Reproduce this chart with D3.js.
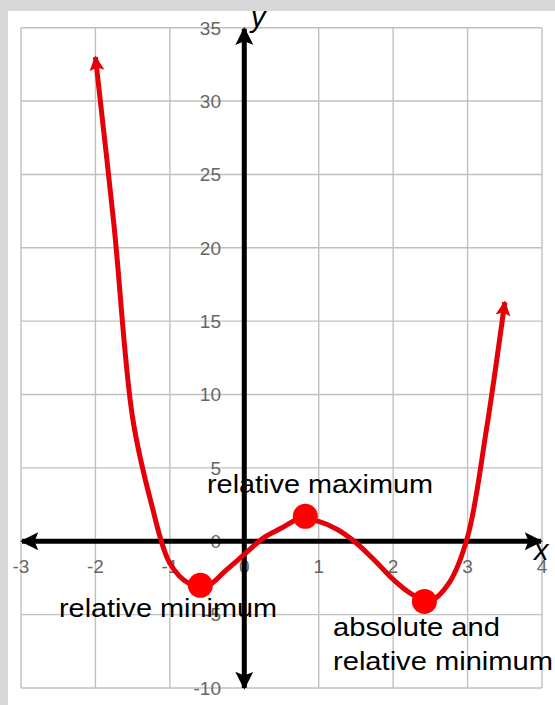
<!DOCTYPE html>
<html><head><meta charset="utf-8">
<script src="https://cdn.jsdelivr.net/npm/d3@7"></script>
<style>html,body{margin:0;padding:0;background:#d8d8d8;}svg{display:block;}</style>
</head><body>
<svg id="c" width="555" height="705"></svg>
<script>
// Curve sample points
const xValues = [-2, -1.75, -1.5, -1.25, -1, -0.75, -0.5, -0.25, 0, 0.25, 0.5, 0.75, 1, 1.25, 1.5, 1.75, 2, 2.25, 2.5, 2.75, 3, 3.25, 3.5];
const yValues = [33, 21.5, 8.4, 2.6, -1.5, -2.85, -3.05, -2.0, -0.9, 0.2, 0.9, 1.55, 1.35, 0.8, -0.1, -1.3, -2.6, -3.6, -4.05, -2.85, 0.3, 7.5, 16.3];
// Marked extrema
const pointX = [-0.59, 0.82, 2.42];
const pointY = [-3.0, 1.7, -4.1];
// Tick labels
const xTicks = [-3, -2, -1, 0, 1, 2, 3, 4];
const yTicks = [-10, -5, 0, 5, 10, 15, 20, 25, 30, 35];

const svg = d3.select("#c");
svg.append("rect").attr("x", 8).attr("y", 11).attr("width", 547).attr("height", 694).attr("fill", "#fff");

const x = d3.scaleLinear().domain([-3, 4]).range([21, 542]);
const y = d3.scaleLinear().domain([-10, 35]).range([688, 27.7]);

// grid
const grid = svg.append("g").attr("stroke", "#c0c0c0").attr("stroke-width", 1.4);
xTicks.forEach(t => grid.append("line").attr("x1", x(t)).attr("x2", x(t)).attr("y1", y(35)).attr("y2", y(-10)));
yTicks.forEach(t => grid.append("line").attr("y1", y(t)).attr("y2", y(t)).attr("x1", x(-3)).attr("x2", x(4)));

// tick labels
const lab = svg.append("g").attr("font-family", "Liberation Sans, Arial, sans-serif").attr("font-size", 19).attr("fill", "#666");
yTicks.forEach(t => lab.append("text").attr("x", 221).attr("y", y(t)).attr("dy", "0.36em").attr("text-anchor", "end").text(t));
xTicks.forEach(t => lab.append("text").attr("x", x(t)).attr("y", y(0) + 32).attr("text-anchor", "middle").text(t));

// defs
const defs = svg.append("defs");
defs.append("marker").attr("id", "blk").attr("viewBox", "0 0 10 10").attr("refX", 9).attr("refY", 5)
  .attr("markerUnits", "userSpaceOnUse").attr("markerWidth", 20).attr("markerHeight", 18).attr("orient", "auto-start-reverse")
  .append("path").attr("d", "M0,0 L10,5 L0,10 L2,5 Z").attr("fill", "#000");
defs.append("marker").attr("id", "red").attr("viewBox", "0 0 10 10").attr("refX", 9).attr("refY", 5)
  .attr("markerUnits", "userSpaceOnUse").attr("markerWidth", 16).attr("markerHeight", 15).attr("orient", "auto-start-reverse")
  .append("path").attr("d", "M0,0 L10,5 L0,10 L2,5 Z").attr("fill", "#e4000a");

// axes
svg.append("line").attr("x1", x(-3) + 1).attr("x2", x(4) - 1).attr("y1", y(0)).attr("y2", y(0))
  .attr("stroke", "#000").attr("stroke-width", 5).attr("marker-start", "url(#blk)").attr("marker-end", "url(#blk)");
svg.append("line").attr("x1", x(0)).attr("x2", x(0)).attr("y1", y(-10)).attr("y2", y(35) + 1)
  .attr("stroke", "#000").attr("stroke-width", 5).attr("marker-start", "url(#blk)").attr("marker-end", "url(#blk)");

// curve
const pts = xValues.map((v, i) => [v, yValues[i]]);
const line = d3.line().x(d => x(d[0])).y(d => y(d[1])).curve(d3.curveCatmullRom.alpha(0.5));
svg.append("path").attr("d", line(pts)).attr("fill", "none").attr("stroke", "#e4000a").attr("stroke-width", 5)
  .attr("stroke-linejoin", "round").attr("marker-start", "url(#red)").attr("marker-end", "url(#red)");

// dots
pointX.forEach((v, i) => svg.append("circle").attr("cx", x(v)).attr("cy", y(pointY[i])).attr("r", 12.5).attr("fill", "#ff0000"));

// axis names
svg.append("text").attr("x", 251).attr("y", 27).attr("font-family", "Liberation Sans, Arial, sans-serif").attr("font-style", "italic").attr("font-size", 29).attr("fill", "#000").text("y");
svg.append("text").attr("x", 534).attr("y", 560).attr("font-family", "Liberation Sans, Arial, sans-serif").attr("font-style", "italic").attr("font-size", 29).attr("fill", "#000").text("x");

// annotations
const ann = svg.append("g").attr("font-family", "Liberation Sans, Arial, sans-serif").attr("font-size", 26).attr("fill", "#000");
ann.append("text").attr("x", 207).attr("y", 493).attr("textLength", 226).attr("lengthAdjust", "spacingAndGlyphs").text("relative maximum");
ann.append("text").attr("x", 59).attr("y", 617).attr("textLength", 218).attr("lengthAdjust", "spacingAndGlyphs").text("relative minimum");
ann.append("text").attr("x", 333).attr("y", 636).attr("textLength", 167).attr("lengthAdjust", "spacingAndGlyphs").text("absolute and");
ann.append("text").attr("x", 333).attr("y", 670).attr("textLength", 220).attr("lengthAdjust", "spacingAndGlyphs").text("relative minimum");
</script>
</body></html>
